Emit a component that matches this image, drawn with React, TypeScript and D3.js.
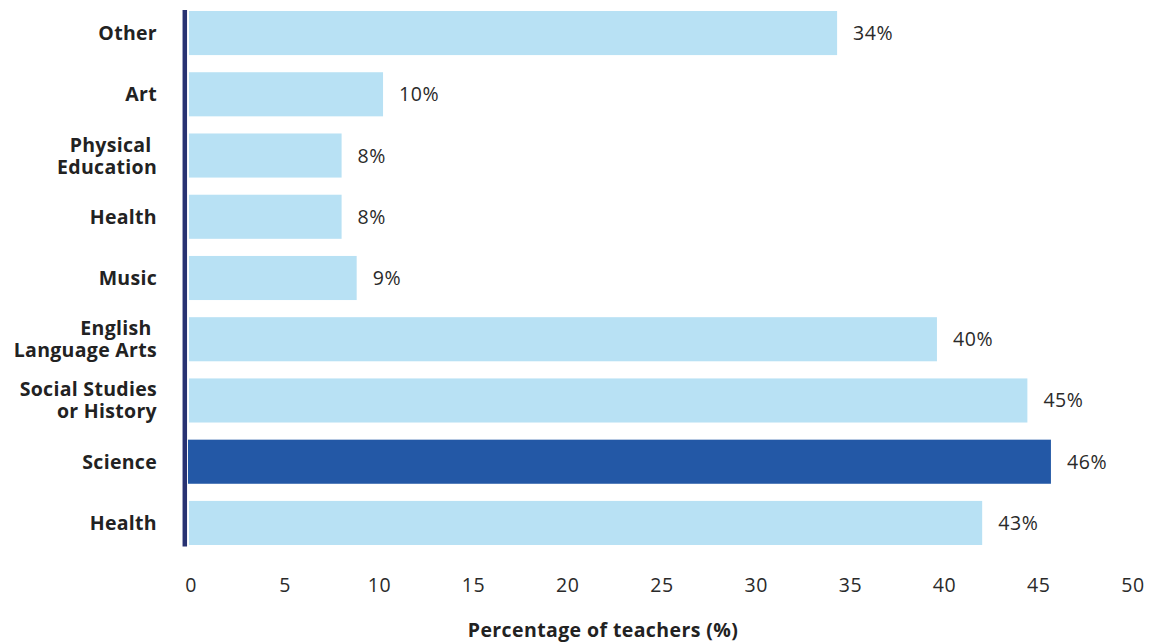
import React from "react";
import * as d3 from "d3";

const categories: string[][] = [
  ["Other"],
  ["Art"],
  ["Physical\u00a0", "Education"],
  ["Health"],
  ["Music"],
  ["English\u00a0", "Language Arts"],
  ["Social Studies", "or History"],
  ["Science"],
  ["Health"],
];
const values: number[] = [34.4, 10.3, 8.1, 8.1, 8.9, 39.7, 44.5, 45.75, 42.1];
const valueLabels: string[] = ["34%", "10%", "8%", "8%", "9%", "40%", "45%", "46%", "43%"];
const highlighted: boolean[] = [false, false, false, false, false, false, false, true, false];
const xTicks: number[] = [0, 5, 10, 15, 20, 25, 30, 35, 40, 45, 50];
const xTitle = "Percentage of teachers (%)";

const W = 1151;
const H = 643;
const FONT = "'Open Sans', Lato, sans-serif";

export default function App() {
  const x = d3.scaleLinear().domain([0, 50]).range([189, 1131]);
  const idx = categories.map((_, i) => i);
  const y = d3
    .scaleBand<number>()
    .domain(idx)
    .range([11, 545])
    .paddingInner(0.28)
    .paddingOuter(0);
  const bh = y.bandwidth();

  return (
    <svg
      width={W}
      height={H}
      style={{ position: "absolute", left: 0, top: 0, background: "#fff" }}
    >
      {idx.map((i) => {
        const y0 = y(i)!;
        const cy = y0 + bh / 2;
        const lines = categories[i];
        const lh = 22;
        return (
          <g key={i}>
            <rect
              x={highlighted[i] ? x(0) - 1 : x(0)}
              y={y0}
              width={x(values[i]) - x(0) + (highlighted[i] ? 1 : 0)}
              height={bh}
              fill={highlighted[i] ? "#2358a6" : "#b8e1f4"}
            />
            <text
              x={x(values[i]) + 16}
              y={cy}
              dy="0.36em"
              fontFamily={FONT}
              fontSize={19.5}
              letterSpacing={0.6}
              fill="#2a2a2a"
            >
              {valueLabels[i]}
            </text>
            {lines.map((l, k) => (
              <text
                key={k}
                x={157}
                y={cy + (k - (lines.length - 1) / 2) * lh}
                dy="0.36em"
                textAnchor="end"
                fontFamily={FONT}
                fontWeight={700}
                fontSize={19.5}
                letterSpacing={0.3}
                fill="#222"
              >
                {l}
              </text>
            ))}
          </g>
        );
      })}
      <line x1={184.8} x2={184.8} y1={10} y2={546.5} stroke="#283272" strokeWidth={4.5} />
      {xTicks.map((t) => (
        <text
          key={t}
          x={x(t) + 2}
          y={585}
          dy="0.36em"
          textAnchor="middle"
          fontFamily={FONT}
          fontSize={19.5}
          letterSpacing={0.6}
          fill="#2a2a2a"
        >
          {t}
        </text>
      ))}
      <text
        x={603}
        y={637}
        textAnchor="middle"
        fontFamily={FONT}
        fontWeight={700}
        fontSize={19.5}
        letterSpacing={0.4}
        fill="#222"
      >
        {xTitle}
      </text>
    </svg>
  );
}
